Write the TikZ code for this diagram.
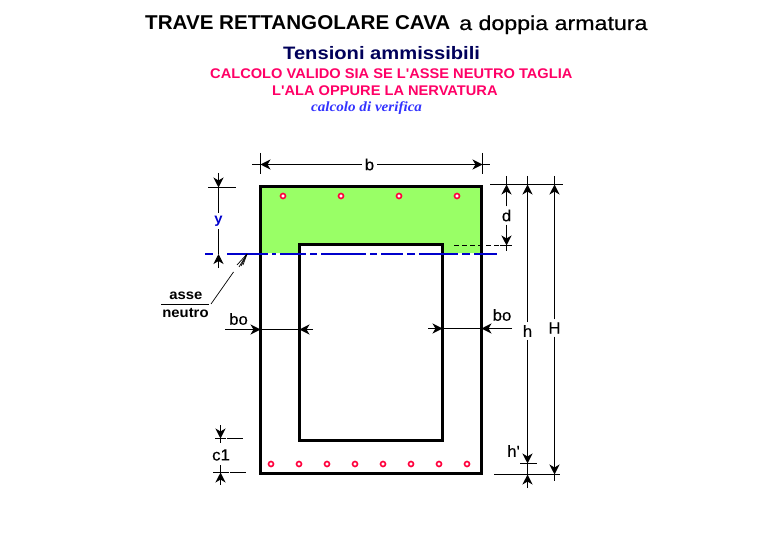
\documentclass[tikz,border=0pt]{standalone}
\usepackage{fontspec}
\setmainfont{Liberation Sans}
\newfontfamily\serifit[FakeStretch=1.08]{Liberation Serif}
\newfontfamily\titlefont[FakeStretch=1.03]{Liberation Sans}
\newfontfamily\subtitlefont[FakeStretch=1.16,FakeBold=0.6]{Liberation Sans}
\newfontfamily\stressfont[FakeStretch=1.12]{Liberation Sans}
\newfontfamily\notefont[FakeStretch=1.045]{Liberation Sans}
\newfontfamily\dimfont[FakeStretch=1.05,FakeBold=0.3]{Liberation Sans}
\newfontfamily\smallfont[FakeStretch=1.06]{Liberation Sans}
\usetikzlibrary{arrows.meta}
\definecolor{zonegreen}{RGB}{153,255,102}
\definecolor{rebarred}{RGB}{255,0,60}
\definecolor{titlenavy}{RGB}{0,0,90}
\definecolor{notered}{RGB}{255,0,102}
\definecolor{noteblue}{RGB}{51,51,255}
\definecolor{axisblue}{RGB}{0,0,204}
\tikzstyle{wall} = [draw=black, line width=3pt, line join=miter]
\tikzstyle{dimline} = [draw=black, line width=1pt]
\tikzstyle{dimtip} = [dimline, -{Stealth[length=10pt, width=10pt, inset=3pt]}]
\tikzstyle{rebar} = [draw=rebarred, line width=1.6pt, fill=white, circle, inner sep=0pt, minimum size=5pt]
\tikzstyle{dimlabel} = [text=black, font=\dimfont\fontsize{16}{16}\selectfont, inner sep=3pt]
\tikzstyle{smalllabel} = [text=black, font=\smallfont\bfseries\fontsize{14}{14}\selectfont, inner sep=0pt]
\tikzstyle{redtitle} = [text=notered, font=\notefont\bfseries\fontsize{14}{14}\selectfont, inner sep=0pt, anchor=base west]
\tikzstyle{hatch} = [draw=black, line width=0.7pt]
\begin{document}
\begin{tikzpicture}[x=1pt, y=-1pt]
\useasboundingbox (0,0) rectangle (770,553);
% titles
\node [anchor=base west, inner sep=0pt, font=\titlefont\bfseries\fontsize{20}{20}\selectfont] (title) at (145,30) {TRAVE RETTANGOLARE CAVA};
\node [anchor=base west, inner sep=0pt, font=\subtitlefont\fontsize{20}{20}\selectfont] (subtitle) at (459,30) {a doppia armatura};
\node [anchor=base west, inner sep=0pt, text=titlenavy, font=\stressfont\bfseries\fontsize{18}{18}\selectfont] (stress) at (283,60) {Tensioni ammissibili};
\node [redtitle] (notea) at (210,79) {CALCOLO VALIDO SIA SE L'ASSE NEUTRO TAGLIA};
\node [redtitle] (noteb) at (272,96) {L'ALA OPPURE LA NERVATURA};
\node [anchor=base west, inner sep=0pt, text=noteblue, font=\serifit\bfseries\itshape\fontsize{14}{14}\selectfont] (check) at (311,112) {calcolo di verifica};
% section
\fill [zonegreen] (262,188) -- (480,188) -- (480,253) -- (443,253) -- (443,245) -- (299,245) -- (299,253) -- (262,253) -- cycle;
\draw [wall] (260.5,186.5) rectangle (481.5,473);
\draw [wall] (299.5,244.5) rectangle (442.5,440);
\foreach \x in {283,341,399,457}
    \node [rebar] (top\x) at (\x,196) {};
\foreach \x in {271,299,327,355,383,411,439,467}
    \node [rebar] (bot\x) at (\x,464) {};
% neutral axis
\draw [draw=axisblue, line width=2pt, dash pattern=on 8pt off 14pt on 41pt off 4pt on 4pt off 4pt on 26pt off 4pt on 7pt off 4pt on 45pt off 4pt on 7pt off 4pt on 22pt off 4pt on 8pt off 4pt on 39pt off 4pt on 8pt off 4pt on 23pt off 4pt] (205,254) -- (497,254);
% b
\node [dimlabel] (b) at (369.5,164.5) {b};
\draw [dimline] (260.5,153) -- (260.5,174);
\draw [dimline] (482.5,153) -- (482.5,174);
\draw [dimline] (252,164.5) -- (260,164.5);
\draw [dimline] (482,164.5) -- (490,164.5);
\draw [dimtip] (b) -- (260.5,164.5);
\draw [dimtip] (b) -- (482.5,164.5);
% y
\node [smalllabel, text=axisblue, inner sep=3pt] (ylabel) at (218.5,221) {y};
\draw [dimline] (208,187.5) -- (236,187.5);
\draw [dimtip] (218.5,173) -- (218.5,187.5);
\draw [dimline] (218.5,187.5) -- (ylabel);
\draw [dimline] (ylabel) -- (218.5,254);
\draw [dimtip] (218.5,268) -- (218.5,254);
% d, h, H
\draw [dimline] (490,184.5) -- (563,184.5);
\node [dimlabel] (d) at (506.5,215.5) {d};
\draw [dimline] (506.5,176) -- (506.5,184.5);
\draw [dimtip] (d) -- (506.5,184.5);
\draw [dimtip] (d) -- (506.5,245.5);
\draw [dimline] (506.5,245.5) -- (506.5,251);
\draw [dimline, dash pattern=on 5pt off 3pt] (454,245.5) -- (499,245.5);
\draw [dimline] (500,245.5) -- (512,245.5);
\node [dimlabel] (h) at (527.5,331) {h};
\node [dimlabel] (H) at (554.5,328) {H};
\draw [dimline] (527.5,176) -- (527.5,184.5);
\draw [dimline] (554.5,176) -- (554.5,184.5);
\draw [dimtip] (h) -- (527.5,184.5);
\draw [dimtip] (H) -- (554.5,184.5);
\draw [dimtip] (h) -- (527.5,463.5);
\draw [dimtip] (H) -- (554.5,474.5);
\draw [dimline] (554.5,474.5) -- (554.5,481);
% h'
\node [dimlabel] (hprime) at (513.5,451) {h'};
\draw [dimline] (520,463.5) -- (537,463.5);
\draw [dimline] (494,474.5) -- (560,474.5);
\draw [dimline] (527.5,463.5) -- (527.5,474.5);
\draw [dimtip] (527.5,488) -- (527.5,474.5);
% bo
\node [dimlabel] (boleft) at (238.5,319) {bo};
\node [dimlabel] (boright) at (502,315) {bo};
\draw [dimtip] (225,329.5) -- (260.5,329.5);
\draw [dimline] (260.5,329.5) -- (299.5,329.5);
\draw [dimtip] (313,329.5) -- (299.5,329.5);
\draw [dimtip] (428,328.5) -- (442.5,328.5);
\draw [dimline] (442.5,328.5) -- (481.5,328.5);
\draw [dimtip] (512,328.5) -- (481.5,328.5);
% c1
\node [dimlabel] (cone) at (221,455) {c1};
\draw [dimline] (215,438.5) -- (226,438.5);
\draw [dimline] (227,438.5) -- (243,438.5);
\draw [dimline] (213,472.5) -- (229,472.5);
\draw [dimline] (230,472.5) -- (246,472.5);
\draw [dimtip] (220.5,425) -- (220.5,438.5);
\draw [dimline] (220.5,438.5) -- (220.5,443);
\draw [dimline] (220.5,465) -- (220.5,472.5);
\draw [dimtip] (220.5,485) -- (220.5,472.5);
% neutral axis label
\node [smalllabel] (asse) at (186,296) {asse};
\node [smalllabel] (neutro) at (185.5,313) {neutro};
\coordinate (leader) at (211,304);
\coordinate (tip) at (247,254);
\draw [dimline] (161,304.5) -- (209,304.5);
\draw [hatch] (leader) -- (233.5,272);
\foreach \x/\y in {237/265, 239/267, 241/266, 243/265}
    \draw [hatch] (tip) -- (\x,\y);
\end{tikzpicture}
\end{document}
